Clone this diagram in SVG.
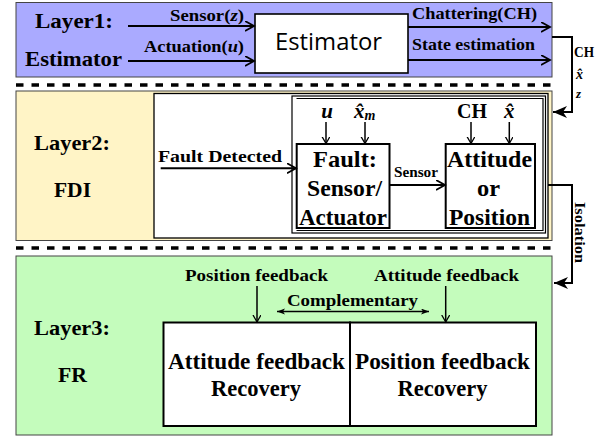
<svg xmlns="http://www.w3.org/2000/svg" width="603" height="438" viewBox="0 0 603 438">
<defs>
<style>
.t{font-family:"Liberation Serif","Times New Roman",serif;font-weight:bold;fill:#000}
.s{font-family:"Open Sans","Liberation Sans",sans-serif;fill:#000}
.i{font-style:italic}
.layer{stroke:#444;stroke-width:1}
.box{fill:#fff;stroke:#000}
.ln{fill:none;stroke:#000}
.dash{stroke:#000;stroke-width:3.5;stroke-dasharray:7.5 8}
</style>
<marker id="open" markerUnits="userSpaceOnUse" markerWidth="12" markerHeight="12" refX="9" refY="5" orient="auto"><path d="M0,0 L9,5 L0,10" fill="none" stroke="#000" stroke-width="1.8"/></marker>
<marker id="openSm" markerUnits="userSpaceOnUse" markerWidth="10" markerHeight="10" refX="7" refY="4" orient="auto"><path d="M0,0 L7,4 L0,8" fill="none" stroke="#000" stroke-width="1.3"/></marker>
<marker id="stealth" markerUnits="userSpaceOnUse" markerWidth="16" markerHeight="14" refX="14" refY="6" orient="auto"><path d="M0,0 L14,6 L0,12 L4,6 z" fill="#000"/></marker>
<marker id="fillSm" markerUnits="userSpaceOnUse" markerWidth="10" markerHeight="8" refX="8" refY="3" orient="auto-start-reverse"><path d="M0,0 L8,3 L0,6 L2,3 z" fill="#000"/></marker>
</defs>

<g id="layer1">
<rect class="layer" x="16" y="2.5" width="536" height="74.5" fill="#AAAAFF"/>
<text class="t" x="35" y="28" font-size="22" textLength="78" lengthAdjust="spacingAndGlyphs">Layer1:</text>
<text class="t" x="25" y="66" font-size="22" textLength="97" lengthAdjust="spacingAndGlyphs">Estimator</text>
</g>
<g id="estimator">
<rect class="box" x="255" y="14" width="153" height="59" stroke-width="1.6"/>
<text class="s" x="275" y="50" font-size="23" textLength="107" lengthAdjust="spacingAndGlyphs">Estimator</text>
</g>

<line class="dash" x1="16" y1="85" x2="552" y2="85"/>

<g id="layer2">
<rect class="layer" x="16" y="91" width="536" height="149.5" fill="#FFF4C6"/>
<text class="t" x="34" y="150" font-size="22" textLength="76" lengthAdjust="spacingAndGlyphs">Layer2:</text>
<text class="t" x="54" y="197" font-size="22" textLength="37" lengthAdjust="spacingAndGlyphs">FDI</text>
</g>
<g id="fdi-frame">
<rect class="box" x="154" y="93.5" width="394" height="144.5" stroke-width="1.3"/>
<rect class="ln" x="292" y="96" width="253.5" height="137" stroke-width="1.2"/>
<path class="ln" d="M296.5,98.5 H543 V230.5 H296.5" stroke-width="1.2"/>
</g>
<g id="fault">
<rect class="box" x="296.7" y="144" width="92.8" height="84" stroke-width="2"/>
<text class="t" x="313" y="167" font-size="24" textLength="64" lengthAdjust="spacingAndGlyphs">Fault:</text>
<text class="t" x="307" y="196" font-size="24" textLength="75" lengthAdjust="spacingAndGlyphs">Sensor/</text>
<text class="t" x="299" y="225" font-size="24" textLength="88" lengthAdjust="spacingAndGlyphs">Actuator</text>
</g>
<g id="attitude">
<rect class="box" x="445.7" y="144" width="89.3" height="84" stroke-width="2"/>
<text class="t" x="447" y="167" font-size="24" textLength="85" lengthAdjust="spacingAndGlyphs">Attitude</text>
<text class="t" x="477" y="196" font-size="24" textLength="23" lengthAdjust="spacingAndGlyphs">or</text>
<text class="t" x="449" y="225" font-size="24" textLength="81" lengthAdjust="spacingAndGlyphs">Position</text>
</g>

<line class="dash" x1="16" y1="248" x2="552" y2="248"/>

<g id="layer3">
<rect class="layer" x="16" y="256" width="536" height="179" fill="#C4FCBC"/>
<text class="t" x="34" y="335" font-size="22" textLength="76" lengthAdjust="spacingAndGlyphs">Layer3:</text>
<text class="t" x="58" y="382" font-size="22" textLength="29" lengthAdjust="spacingAndGlyphs">FR</text>
</g>
<g id="recovery-attitude">
<rect class="box" x="163.5" y="322.5" width="186.5" height="103.5" stroke-width="2"/>
<text class="t" x="168" y="369" font-size="22.5" textLength="177" lengthAdjust="spacingAndGlyphs">Attitude feedback</text>
<text class="t" x="256" y="396" font-size="22.5" text-anchor="middle">Recovery</text>
</g>
<g id="recovery-position">
<rect class="box" x="350" y="322.5" width="186" height="103.5" stroke-width="2"/>
<text class="t" x="355" y="369" font-size="22.5" textLength="175" lengthAdjust="spacingAndGlyphs">Position feedback</text>
<text class="t" x="442.5" y="396" font-size="22.5" text-anchor="middle">Recovery</text>
</g>

<g id="connectors">
<line class="ln" x1="128" y1="26" x2="254" y2="26" stroke-width="2" marker-end="url(#open)"/>
<text class="t" x="170" y="21" font-size="17.5" textLength="74" lengthAdjust="spacingAndGlyphs">Sensor(<tspan class="i">z</tspan>)</text>
<line class="ln" x1="128" y1="61" x2="254" y2="61" stroke-width="2" marker-end="url(#open)"/>
<text class="t" x="144" y="52" font-size="17.5" textLength="100" lengthAdjust="spacingAndGlyphs">Actuation(<tspan class="i">u</tspan>)</text>
<line class="ln" x1="408" y1="27" x2="550" y2="27" stroke-width="2" marker-end="url(#open)"/>
<text class="t" x="412" y="19" font-size="17.5" textLength="125" lengthAdjust="spacingAndGlyphs">Chattering(CH)</text>
<line class="ln" x1="408" y1="60" x2="550" y2="60" stroke-width="2" marker-end="url(#open)"/>
<text class="t" x="412" y="50" font-size="17.5" textLength="123" lengthAdjust="spacingAndGlyphs">State estimation</text>

<polyline class="ln" points="552,37 572,37 572,112 553,112" stroke-width="2" marker-end="url(#stealth)"/>
<text class="t" x="574" y="57" font-size="14" textLength="20" lengthAdjust="spacingAndGlyphs">CH</text>
<text class="t i" x="576" y="79" font-size="14">x̂</text>
<text class="t i" x="576" y="98" font-size="13" font-weight="normal">z</text>

<line class="ln" x1="160.7" y1="168.3" x2="296" y2="168.3" stroke-width="2" marker-end="url(#open)"/>
<text class="t" x="158" y="162" font-size="17.5" textLength="124" lengthAdjust="spacingAndGlyphs">Fault Detected</text>

<text class="t i" x="327" y="118" font-size="21" text-anchor="middle">u</text>
<line class="ln" x1="326" y1="122" x2="326" y2="143.5" stroke-width="1.5" marker-end="url(#openSm)"/>
<text class="t i" x="354" y="118" font-size="21">x̂<tspan font-size="14" dy="2">m</tspan></text>
<line class="ln" x1="365" y1="122" x2="365" y2="143.5" stroke-width="1.5" marker-end="url(#openSm)"/>
<text class="t" x="457" y="118" font-size="21" textLength="30" lengthAdjust="spacingAndGlyphs">CH</text>
<line class="ln" x1="471" y1="122" x2="471" y2="143.5" stroke-width="1.5" marker-end="url(#openSm)"/>
<text class="t i" x="504" y="118" font-size="21">x̂</text>
<line class="ln" x1="509.3" y1="122" x2="509.3" y2="143.5" stroke-width="1.5" marker-end="url(#openSm)"/>

<line class="ln" x1="389.5" y1="185" x2="445" y2="185" stroke-width="2" marker-end="url(#open)"/>
<text class="t" x="394" y="177" font-size="14" textLength="44" lengthAdjust="spacingAndGlyphs">Sensor</text>

<polyline class="ln" points="548,185 572,185 572,283 554,283" stroke-width="2" marker-end="url(#stealth)"/>
<text class="t" transform="translate(575,202) rotate(90)" font-size="15" textLength="61" lengthAdjust="spacingAndGlyphs">Isolation</text>

<text class="t" x="185" y="281" font-size="17.5" textLength="143" lengthAdjust="spacingAndGlyphs">Position feedback</text>
<line class="ln" x1="257" y1="286" x2="257" y2="322" stroke-width="1.5" marker-end="url(#openSm)"/>
<text class="t" x="374" y="281" font-size="17.5" textLength="145" lengthAdjust="spacingAndGlyphs">Attitude feedback</text>
<line class="ln" x1="445.7" y1="286" x2="445.7" y2="322" stroke-width="1.5" marker-end="url(#openSm)"/>
<text class="t" x="287" y="306" font-size="17.5" textLength="131" lengthAdjust="spacingAndGlyphs">Complementary</text>
<line class="ln" x1="277" y1="311.5" x2="429" y2="311.5" stroke-width="1.5" marker-start="url(#fillSm)" marker-end="url(#fillSm)"/>
</g>
</svg>
